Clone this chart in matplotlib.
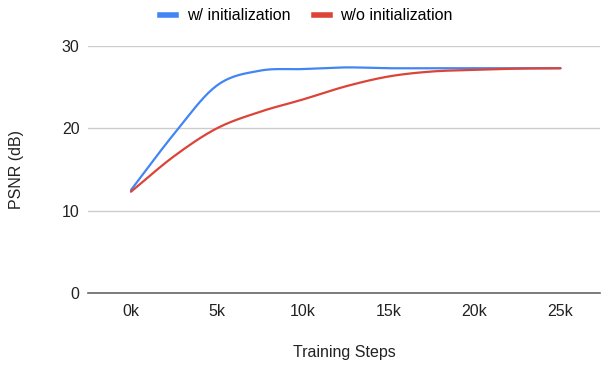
import numpy as np
import matplotlib.pyplot as plt
from matplotlib.lines import Line2D

# training steps (k) and PSNR values
steps = [0, 2.5, 5, 7.5, 10, 12.5, 15, 17.5, 20, 22.5, 25]
psnr_init = [12.5, 19.3, 25.2, 27.0, 27.2, 27.4, 27.3, 27.3, 27.3, 27.3, 27.3]
psnr_noinit = [12.3, 16.6, 20.0, 22.0, 23.5, 25.1, 26.3, 26.9, 27.1, 27.25, 27.3]
xticks = [0, 5, 10, 15, 20, 25]
xticklabels = ['0k', '5k', '10k', '15k', '20k', '25k']
yticks = [0, 10, 20, 30]

blue = '#4285F4'
red = '#DB4437'
fs = 11.5

plt.rcParams['font.family'] = ['Liberation Sans', 'DejaVu Sans']


def smooth(x, y, n=20):
    # catmull-rom through the data points
    x = np.asarray(x, float)
    y = np.asarray(y, float)
    px = np.concatenate([[2 * x[0] - x[1]], x, [2 * x[-1] - x[-2]]])
    py = np.concatenate([[2 * y[0] - y[1]], y, [2 * y[-1] - y[-2]]])
    xs, ys = [], []
    for i in range(1, len(px) - 2):
        t = np.linspace(0, 1, n, endpoint=False)
        for p, out in ((px, xs), (py, ys)):
            p0, p1, p2, p3 = p[i - 1], p[i], p[i + 1], p[i + 2]
            out.extend(0.5 * ((2 * p1) + (-p0 + p2) * t
                              + (2 * p0 - 5 * p1 + 4 * p2 - p3) * t ** 2
                              + (-p0 + 3 * p1 - 3 * p2 + p3) * t ** 3))
    xs.append(x[-1])
    ys.append(y[-1])
    return np.array(xs), np.array(ys)


fig = plt.figure(figsize=(6.01, 3.66), dpi=100)
ax = fig.add_axes([88 / 601, 1 - 293 / 366, 512 / 601, 247 / 366])

sx, sy = smooth(steps, psnr_init)
ax.plot(sx, sy, color=blue, lw=1.6, solid_capstyle='round', zorder=3)
sx, sy = smooth(steps, psnr_noinit)
ax.plot(sx, sy, color=red, lw=1.6, solid_capstyle='round', zorder=4)

ax.set_xlim(-2.5, 27.3)
ax.set_ylim(0, 30)
ax.set_xticks(xticks)
ax.set_xticklabels(xticklabels)
ax.set_yticks(yticks)
ax.tick_params(length=0, labelsize=fs, colors='#222222')
ax.tick_params(axis='x', pad=8)
ax.tick_params(axis='y', pad=6)
ax.grid(axis='y', color='#cccccc', lw=1)
for s in ['top', 'right', 'left']:
    ax.spines[s].set_visible(False)
ax.spines['bottom'].set_color('#666666')
ax.spines['bottom'].set_linewidth(1.2)
ax.spines['bottom'].set_zorder(2)

ax.set_xlabel('Training Steps', fontsize=fs, color='#222222', va='center')
ax.xaxis.set_label_coords(0.5, -(353 - 293) / 247)
ax.set_ylabel('PSNR (dB)', fontsize=fs, color='#222222', va='center')
ax.yaxis.set_label_coords(-(88 - 17) / 512, 0.5)

handles = [Line2D([], [], color=blue, lw=4), Line2D([], [], color=red, lw=4)]
fig.legend(handles, ['w/ initialization', 'w/o initialization'], ncol=2,
           loc='center', bbox_to_anchor=(306.5 / 601, 1 - 16 / 366), frameon=False,
           fontsize=fs, handlelength=1.0, columnspacing=1.45, handletextpad=0.66)

fig.savefig('out.png', dpi=100)
